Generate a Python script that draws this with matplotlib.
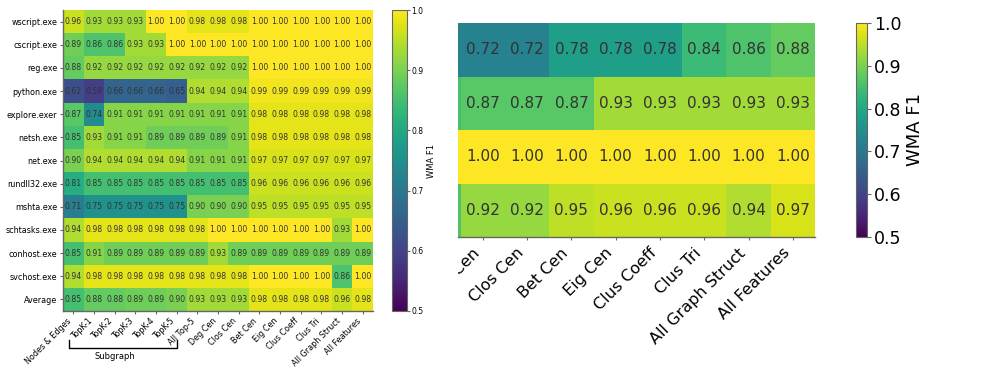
import matplotlib
matplotlib.use('Agg')
import matplotlib.pyplot as plt
import matplotlib.transforms as mtransforms
import numpy as np

# left heatmap: per-process WMA F1
processes = ['wscript.exe', 'cscript.exe', 'reg.exe', 'python.exe', 'explore.exer',
             'netsh.exe', 'net.exe', 'rundll32.exe', 'mshta.exe', 'schtasks.exe',
             'conhost.exe', 'svchost.exe', 'Average']
features = ['Nodes & Edges', 'TopK-1', 'TopK-2', 'TopK-3', 'TopK-4', 'TopK-5', 'All Top-5',
            'Deg Cen', 'Clos Cen', 'Bet Cen', 'Eig Cen', 'Clus Coeff', 'Clus Tri',
            'All Graph Struct', 'All Features']

wscript = [0.96, 0.93, 0.93, 0.93, 1.00, 1.00, 0.98, 0.98, 0.98, 1.00, 1.00, 1.00, 1.00, 1.00, 1.00]
cscript = [0.89, 0.86, 0.86, 0.93, 0.93, 1.00, 1.00, 1.00, 1.00, 1.00, 1.00, 1.00, 1.00, 1.00, 1.00]
reg = [0.88, 0.92, 0.92, 0.92, 0.92, 0.92, 0.92, 0.92, 0.92, 1.00, 1.00, 1.00, 1.00, 1.00, 1.00]
python = [0.62, 0.59, 0.66, 0.66, 0.66, 0.65, 0.94, 0.94, 0.94, 0.99, 0.99, 0.99, 0.99, 0.99, 0.99]
explore = [0.87, 0.74, 0.91, 0.91, 0.91, 0.91, 0.91, 0.91, 0.91, 0.98, 0.98, 0.98, 0.98, 0.98, 0.98]
netsh = [0.85, 0.93, 0.91, 0.91, 0.89, 0.89, 0.89, 0.89, 0.91, 0.98, 0.98, 0.98, 0.98, 0.98, 0.98]
net = [0.90, 0.94, 0.94, 0.94, 0.94, 0.94, 0.91, 0.91, 0.91, 0.97, 0.97, 0.97, 0.97, 0.97, 0.97]
rundll32 = [0.81, 0.85, 0.85, 0.85, 0.85, 0.85, 0.85, 0.85, 0.85, 0.96, 0.96, 0.96, 0.96, 0.96, 0.96]
mshta = [0.71, 0.75, 0.75, 0.75, 0.75, 0.75, 0.90, 0.90, 0.90, 0.95, 0.95, 0.95, 0.95, 0.95, 0.95]
schtasks = [0.94, 0.98, 0.98, 0.98, 0.98, 0.98, 0.98, 1.00, 1.00, 1.00, 1.00, 1.00, 1.00, 0.93, 1.00]
conhost = [0.85, 0.91, 0.89, 0.89, 0.89, 0.89, 0.89, 0.93, 0.89, 0.89, 0.89, 0.89, 0.89, 0.89, 0.89]
svchost = [0.94, 0.98, 0.98, 0.98, 0.98, 0.98, 0.98, 0.98, 0.98, 1.00, 1.00, 1.00, 1.00, 0.86, 1.00]
average = [0.85, 0.88, 0.88, 0.89, 0.89, 0.90, 0.93, 0.93, 0.93, 0.98, 0.98, 0.98, 0.98, 0.96, 0.98]

# right heatmap (cropped view, first column only a sliver)
right_features = ['All Top-5', 'Deg Cen', 'Clos Cen', 'Bet Cen', 'Eig Cen', 'Clus Coeff',
                  'Clus Tri', 'All Graph Struct', 'All Features']
right_row1 = [0.72, 0.72, 0.72, 0.78, 0.78, 0.78, 0.84, 0.86, 0.88]
right_row2 = [0.85, 0.87, 0.87, 0.87, 0.93, 0.93, 0.93, 0.93, 0.93]
right_row3 = [1.00, 1.00, 1.00, 1.00, 1.00, 1.00, 1.00, 1.00, 1.00]
right_row4 = [0.86, 0.92, 0.92, 0.95, 0.96, 0.96, 0.96, 0.94, 0.97]

left_data = np.array([wscript, cscript, reg, python, explore, netsh, net, rundll32,
                      mshta, schtasks, conhost, svchost, average])
right_data = np.array([right_row1, right_row2, right_row3, right_row4])

W, H = 997, 374
fig = plt.figure(figsize=(W / 100, H / 100), dpi=100)

def px_axes(x0, y0, x1, y1):
    return fig.add_axes([x0 / W, 1 - y1 / H, (x1 - x0) / W, (y1 - y0) / H])

spine_col = '0.4'
text_col = '#333333'

def style_heat(ax):
    for s in ['top', 'right']:
        ax.spines[s].set_visible(False)
    for s in ['left', 'bottom']:
        ax.spines[s].set_color(spine_col)
        ax.spines[s].set_linewidth(1.0)
    ax.tick_params(color=spine_col, length=2.5, width=0.8)

# ---- left panel ----
ax1 = px_axes(63, 10, 373, 311)
mesh1 = ax1.pcolormesh(left_data, cmap='viridis', vmin=0.5, vmax=1.0)
ax1.set_xlim(0, left_data.shape[1])
ax1.set_ylim(left_data.shape[0], 0)
for i in range(left_data.shape[0]):
    for j in range(left_data.shape[1]):
        ax1.text(j + 0.5, i + 0.5, f'{left_data[i, j]:.2f}', ha='center', va='center',
                 fontsize=5.6, color=text_col)
ax1.set_yticks(np.arange(len(processes)) + 0.5)
ax1.set_yticklabels(processes, fontsize=5.8)
ax1.set_xticks(np.arange(len(features)) + 0.5)
ax1.set_xticklabels(features, fontsize=5.8, rotation=45, ha='right')
style_heat(ax1)
ax1.tick_params(axis='both', pad=1.5)

# Subgraph bracket under TopK labels
trans = mtransforms.blended_transform_factory(ax1.transData, ax1.transAxes)
ax1.plot([0.29, 0.29, 5.5, 5.5], [-0.096, -0.122, -0.122, -0.096], color='black',
         lw=1.0, transform=trans, clip_on=False)
ax1.text(2.5, -0.137, 'Subgraph', transform=trans, ha='center', va='top', fontsize=6)

cax1 = px_axes(392, 10, 407, 311)
cb1 = fig.colorbar(mesh1, cax=cax1, ticks=[0.5, 0.6, 0.7, 0.8, 0.9, 1.0])
cb1.ax.tick_params(labelsize=5.5, length=2, color=spine_col, pad=1)
cb1.outline.set_edgecolor(spine_col)
cb1.set_label('WMA F1', fontsize=6, labelpad=3)

# ---- right panel ----
ax2 = px_axes(458, 23, 815, 237)
mesh2 = ax2.pcolormesh(right_data, cmap='viridis', vmin=0.5, vmax=1.0)
ax2.set_xlim(0.94, right_data.shape[1])
ax2.set_ylim(right_data.shape[0], 0)
for i in range(right_data.shape[0]):
    for j in range(1, right_data.shape[1]):
        ax2.text(j + 0.5, i + 0.5, f'{right_data[i, j]:.2f}', ha='center', va='center',
                 fontsize=11, color=text_col)
ax2.set_yticks([])
ax2.set_xticks(np.arange(1, len(right_features)) + 0.5)
ax2.set_xticklabels(right_features[1:], fontsize=11.5, rotation=45, ha='right')
style_heat(ax2)
ax2.spines['left'].set_visible(False)
clip = mtransforms.TransformedBbox(mtransforms.Bbox([[458 / W, 0], [1, 1]]), fig.transFigure)
for lab in ax2.get_xticklabels():
    lab.set_clip_on(True)
    lab.set_clip_box(clip)

cax2 = px_axes(856, 23, 867, 237)
cb2 = fig.colorbar(mesh2, cax=cax2, ticks=[0.5, 0.6, 0.7, 0.8, 0.9, 1.0])
cb2.ax.tick_params(labelsize=12.5, length=3, color=spine_col, pad=2)
cb2.outline.set_edgecolor(spine_col)
cb2.set_label('WMA F1', fontsize=13, labelpad=3)

fig.savefig('out.png', dpi=100)
